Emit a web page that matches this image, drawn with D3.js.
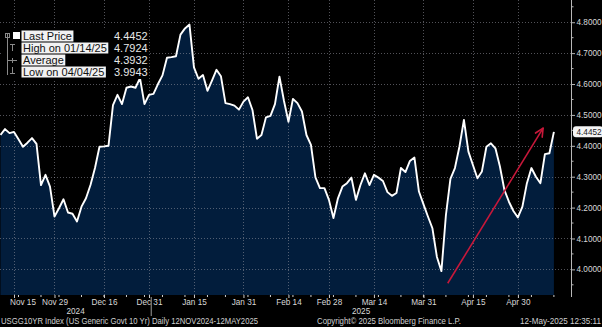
<!DOCTYPE html>
<html>
<head>
<meta charset="utf-8">
<script src="https://cdn.jsdelivr.net/npm/d3@7"></script>
<style>
  html, body { margin: 0; padding: 0; background: #000; }
  svg { display: block; font-family: "Liberation Sans", Arial, sans-serif; }
</style>
</head>
<body>
<svg id="chart" width="602" height="327"></svg>
<script>
// US Generic Govt 10Y yield, daily closes 12 Nov 2024 – 12 May 2025
const startDate = "2024-11-12";
const endDate = "2025-05-12";
const marketHolidays = ["2024-11-28", "2024-12-25", "2025-01-01", "2025-01-20", "2025-02-17", "2025-04-18"];

const yields = [
  4.435, 4.454, 4.441, 4.445, 4.421, 4.397, 4.410, 4.425, 4.406, 4.273,
  4.306, 4.268, 4.171, 4.198, 4.227, 4.184, 4.180, 4.155, 4.203, 4.230,
  4.273, 4.328, 4.397, 4.398, 4.400, 4.532, 4.565, 4.535, 4.588, 4.592,
  4.588, 4.619, 4.535, 4.565, 4.568, 4.600, 4.628, 4.685, 4.687, 4.690,
  4.760, 4.780, 4.7924, 4.654, 4.617, 4.629, 4.578, 4.611, 4.646, 4.625,
  4.538, 4.535, 4.530, 4.517, 4.543, 4.557, 4.516, 4.423, 4.435, 4.492,
  4.497, 4.535, 4.624, 4.546, 4.478, 4.552, 4.538, 4.511, 4.435, 4.403,
  4.298, 4.263, 4.263, 4.225, 4.166, 4.230, 4.268, 4.279, 4.297, 4.225,
  4.273, 4.311, 4.273, 4.306, 4.297, 4.286, 4.250, 4.238, 4.247, 4.328,
  4.315, 4.351, 4.362, 4.252, 4.211, 4.171, 4.133, 4.040, 3.9943, 4.176,
  4.293, 4.328, 4.397, 4.484, 4.381, 4.338, 4.295, 4.317, 4.397, 4.408,
  4.392, 4.333, 4.257, 4.219, 4.189, 4.168, 4.203, 4.279, 4.328, 4.300,
  4.279, 4.373, 4.376, 4.4452
];

const averageYield = 4.3932;
const dateTickLabels = ["2024-11-15", "2024-11-29", "2024-12-16", "2024-12-31", "2025-01-15", "2025-01-31",
                        "2025-02-14", "2025-02-28", "2025-03-14", "2025-03-31", "2025-04-15", "2025-04-30"];
const yMajorTicks = [4.0, 4.1, 4.2, 4.3, 4.4, 4.5, 4.6, 4.7, 4.8];
const yMinorTicks = [3.95, 4.05, 4.15, 4.25, 4.35, 4.45, 4.55, 4.65, 4.75, 4.85];
const yearLabels = ["2024", "2025"];
const trendArrow = { from: [99.4, 3.955], to: [120.6, 4.457] };   // [trading-day index, yield]

const footerLeft = "USGG10YR Index (US Generic Govt 10 Yr)  Daily 12NOV2024-12MAY2025";
const footerMid = "Copyright\u00A9 2025 Bloomberg Finance L.P.";
const footerRight = "12-May-2025 12:35:11";

// ---- trading calendar ----
const parse = d3.timeParse("%Y-%m-%d");
const fmtKey = d3.timeFormat("%Y-%m-%d");
const holidaySet = new Set(marketHolidays);
const dates = d3.timeDay.range(parse(startDate), d3.timeDay.offset(parse(endDate), 1))
  .filter(d => d.getDay() !== 0 && d.getDay() !== 6 && !holidaySet.has(fmtKey(d)));
const idxOf = key => dates.findIndex(d => fmtKey(d) === key);
const data = dates.map((d, i) => ({ i, date: d, v: yields[i] }));

// ---- layout ----
const W = 602, H = 327;
const plotRight = 571, plotBottom = 295;
const svg = d3.select("#chart");
svg.append("rect").attr("width", W).attr("height", H).attr("fill", "#000");

const x = d3.scaleLinear().domain([0, dates.length + 2.8]).range([0.5, plotRight]);
const y = d3.scaleLinear().domain([3.917, 4.872]).range([plotBottom, 0]);

// area under the curve
const area = d3.area().x(d => x(d.i)).y0(plotBottom).y1(d => y(d.v));
svg.append("path").datum(data).attr("d", area).attr("fill", "#021d3c");

// dotted grid
const gridColor = "rgba(150,150,160,0.55)";
const tickIdx = dateTickLabels.map(idxOf);
svg.append("g").selectAll("line").data(yMajorTicks).join("line")
  .attr("x1", 0).attr("x2", plotRight)
  .attr("y1", d => Math.round(y(d)) + 0.5).attr("y2", d => Math.round(y(d)) + 0.5)
  .attr("stroke", gridColor).attr("stroke-width", 1).attr("stroke-dasharray", "1,2");
svg.append("g").selectAll("line").data(tickIdx).join("line")
  .attr("x1", d => Math.round(x(d)) + 0.5).attr("x2", d => Math.round(x(d)) + 0.5)
  .attr("y1", 0).attr("y2", plotBottom)
  .attr("stroke", gridColor).attr("stroke-width", 1).attr("stroke-dasharray", "1,2");

// price line
const line = d3.line().x(d => x(d.i)).y(d => y(d.v));
svg.append("path").datum(data).attr("d", line)
  .attr("fill", "none").attr("stroke", "#fff").attr("stroke-width", 1.9)
  .attr("stroke-linejoin", "round");

// trend arrow
const ax0 = x(trendArrow.from[0]), ay0 = y(trendArrow.from[1]);
const ax1 = x(trendArrow.to[0]), ay1 = y(trendArrow.to[1]);
const ang = Math.atan2(ay1 - ay0, ax1 - ax0);
const red = "#c8183a";
svg.append("line").attr("x1", ax0).attr("y1", ay0).attr("x2", ax1).attr("y2", ay1)
  .attr("stroke", red).attr("stroke-width", 1.6);
[-0.45, 0.45].forEach(a => {
  svg.append("line").attr("x1", ax1).attr("y1", ay1)
    .attr("x2", ax1 - 9 * Math.cos(ang + a)).attr("y2", ay1 - 9 * Math.sin(ang + a))
    .attr("stroke", red).attr("stroke-width", 1.6).attr("stroke-linecap", "round");
});

// right value axis
const axisColor = "#b8b8b8";
const yAxis = d3.axisRight(y).tickValues(yMajorTicks).tickFormat(d3.format(".4f"))
  .tickSize(4).tickPadding(1.5);
const gy = svg.append("g").attr("transform", `translate(${plotRight},0)`).call(yAxis);
gy.select(".domain").remove();
gy.selectAll(".tick line").attr("stroke", axisColor);
gy.selectAll(".tick text").attr("fill", "#d8d8d8").attr("font-size", 8.2)
  .attr("font-family", "Liberation Sans, Arial, sans-serif");
svg.append("line").attr("x1", plotRight + 0.5).attr("x2", plotRight + 0.5)
  .attr("y1", 0).attr("y2", plotBottom + 2).attr("stroke", axisColor);
svg.append("g").selectAll("line").data(yMinorTicks).join("line")
  .attr("x1", plotRight).attr("x2", plotRight + 2.5)
  .attr("y1", d => y(d)).attr("y2", d => y(d)).attr("stroke", axisColor);

// last price tag
const lastV = yields[yields.length - 1];
const ty = y(lastV);
svg.append("rect").attr("x", 573).attr("y", ty - 5.5).attr("width", 30).attr("height", 11)
  .attr("rx", 3).attr("fill", "#f4f4f4");
svg.append("text").attr("x", 576.5).attr("y", ty + 3).attr("font-size", 8.2)
  .attr("fill", "#1a1a1a").text(d3.format(".4f")(lastV));

// bottom date axis
const dateFmt = d3.timeFormat("%b %d");
const xAxis = d3.axisBottom(x).tickValues(tickIdx).tickFormat(i => dateFmt(dates[i]))
  .tickSize(3).tickPadding(1.5);
const gx = svg.append("g").attr("transform", `translate(0,${plotBottom})`).call(xAxis);
gx.select(".domain").remove();
gx.selectAll(".tick line").attr("stroke", "#cfcfcf");
gx.selectAll(".tick text").attr("fill", "#d8d8d8").attr("font-size", 8.2)
  .attr("font-family", "Liberation Sans, Arial, sans-serif")
  .attr("x", function() {
    const w = this.getComputedTextLength();
    const tx = +this.parentNode.getAttribute("transform").match(/translate\(([-\d.]+)/)[1];
    return Math.max(0, 10 + w / 2 - tx);
  });
// weekly minor ticks
const weekStarts = data.filter((d, i) => i > 0 && d3.timeMonday.floor(d.date) > dates[i - 1]).map(d => d.i);
svg.append("g").selectAll("line").data(weekStarts).join("line")
  .attr("x1", d => x(d)).attr("x2", d => x(d))
  .attr("y1", plotBottom).attr("y2", plotBottom + 2).attr("stroke", "#cfcfcf");

// year row
const yearBreak = x(idxOf("2024-12-31") + 0.5);
svg.append("line").attr("x1", yearBreak).attr("x2", yearBreak)
  .attr("y1", plotBottom + 2).attr("y2", 316).attr("stroke", "#9a9a9a");
[[0, yearBreak], [yearBreak, plotRight]].forEach((span, k) => {
  svg.append("text").attr("x", (span[0] + span[1]) / 2).attr("y", 314)
    .attr("text-anchor", "middle").attr("font-size", 8.2).attr("fill", "#d8d8d8")
    .text(yearLabels[k]);
});

// footer
const footer = svg.append("g").attr("font-size", 8.2).attr("fill", "#d0d0d0");
footer.append("text").attr("x", 1).attr("y", 324).attr("textLength", 257)
  .attr("lengthAdjust", "spacingAndGlyphs").text(footerLeft);
footer.append("text").attr("x", 317).attr("y", 324).attr("textLength", 144)
  .attr("lengthAdjust", "spacingAndGlyphs").text(footerMid);
footer.append("text").attr("x", 520).attr("y", 324).attr("textLength", 81)
  .attr("lengthAdjust", "spacingAndGlyphs").text(footerRight);

// legend
const fmtLeg = d3.timeFormat("%m/%d/%y");
const hiIdx = d3.maxIndex(yields), loIdx = d3.minIndex(yields);
const legendRows = [
  { label: "Last Price", value: lastV },
  { label: "High on " + fmtLeg(dates[hiIdx]), value: yields[hiIdx] },
  { label: "Average", value: averageYield },
  { label: "Low on " + fmtLeg(dates[loIdx]), value: yields[loIdx] }
];
const leg = svg.append("g");
leg.append("rect").attr("x", 1).attr("y", 29).attr("width", 148).attr("height", 50).attr("fill", "#000");
const iconCol = "#8a8a8a";
leg.append("line").attr("x1", 7.5).attr("x2", 7.5).attr("y1", 34).attr("y2", 75).attr("stroke", iconCol);
leg.append("rect").attr("x", 5.5).attr("y", 33.5).attr("width", 4).attr("height", 4)
  .attr("fill", "none").attr("stroke", iconCol);
leg.append("rect").attr("x", 13).attr("y", 32).attr("width", 7).attr("height", 7).attr("fill", "#fff");
// high marker
leg.append("path").attr("d", "M10,44.5H15M12.5,44.5V51").attr("stroke", iconCol).attr("fill", "none");
// average marker
leg.append("path").attr("d", "M8,60.5H17M12.5,58V63").attr("stroke", iconCol).attr("fill", "none");
// low marker
leg.append("path").attr("d", "M12.5,67V73.5M10,73.5H15").attr("stroke", iconCol).attr("fill", "none");

legendRows.forEach((r, k) => {
  const cy = 36 + k * 12;
  const bg = leg.append("rect").attr("y", cy - 5.5).attr("height", 11).attr("fill", "#f2f2f2");
  const t = leg.append("text").attr("x", 23).attr("y", cy + 4).attr("font-size", 11)
    .attr("fill", "#111").text(r.label);
  const w = t.node().getComputedTextLength();
  bg.attr("x", 21.5).attr("width", w + 3);
  leg.append("text").attr("x", 114).attr("y", cy + 4).attr("font-size", 11)
    .attr("fill", "#e8e8e8").text(d3.format(".4f")(r.value));
});
</script>
</body>
</html>
